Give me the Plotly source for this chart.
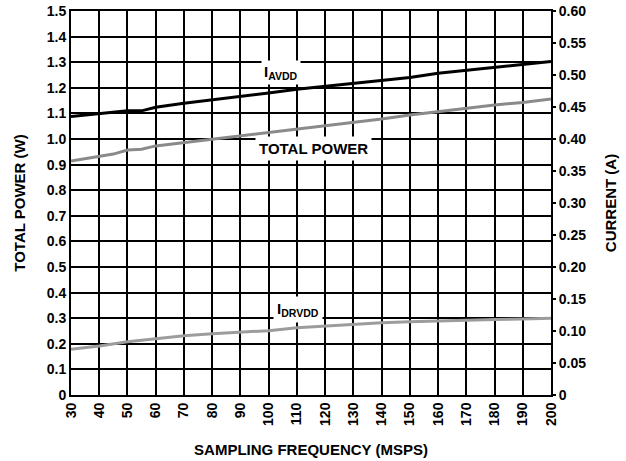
import plotly.graph_objects as go

# ---- data ----
freq_avdd = [30, 40, 50, 55, 60, 70, 80, 90, 100, 110, 120, 130, 140, 150, 160, 170, 180, 190, 200]
i_avdd = [0.435, 0.440, 0.444, 0.444, 0.4495, 0.456, 0.461, 0.466, 0.472, 0.4776, 0.482, 0.487,
          0.491, 0.496, 0.5026, 0.507, 0.512, 0.516, 0.521]

freq_power = [30, 40, 45, 50, 55, 60, 70, 80, 90, 100, 110, 120, 130, 140, 150, 160, 170, 180, 190, 200]
total_power = [0.914, 0.931, 0.941, 0.957, 0.960, 0.973, 0.986, 0.999, 1.014, 1.026, 1.038, 1.051,
               1.064, 1.078, 1.094, 1.107, 1.120, 1.133, 1.143, 1.156]

freq_drvdd = [30, 40, 50, 60, 70, 80, 90, 100, 110, 120, 130, 140, 150, 160, 170, 180, 190, 200]
i_drvdd = [0.0714, 0.0766, 0.0833, 0.0885, 0.0927, 0.0958, 0.098, 0.1005, 0.105, 0.1078, 0.1104,
           0.113, 0.1146, 0.116, 0.117, 0.118, 0.1187, 0.120]

x_ticks = list(range(30, 201, 10))
power_ticks = [i / 10 for i in range(16)]
power_labels = ["0"] + [f"{v:.1f}" for v in power_ticks[1:]]
current_ticks = [i * 0.05 for i in range(13)]
current_labels = ["0"] + [f"{v:.2f}" for v in current_ticks[1:]]

FONT = "Liberation Sans, Arial, Helvetica, sans-serif"

fig = go.Figure()
fig.add_trace(go.Scatter(x=freq_power, y=total_power, mode="lines", yaxis="y",
                         line=dict(color="#8a8a8a", width=3), showlegend=False))
fig.add_trace(go.Scatter(x=freq_drvdd, y=i_drvdd, mode="lines", yaxis="y2",
                         line=dict(color="#9c9c9c", width=3), showlegend=False))
fig.add_trace(go.Scatter(x=freq_avdd, y=i_avdd, mode="lines", yaxis="y2",
                         line=dict(color="#000000", width=3), showlegend=False))

fig.update_layout(
    width=626, height=461,
    margin=dict(l=71, r=75, t=11, b=66),
    paper_bgcolor="white", plot_bgcolor="white",
    font=dict(family=FONT, size=14, color="black", weight="bold"),
    xaxis=dict(range=[30, 200], tickvals=x_ticks, ticktext=[str(v) for v in x_ticks],
               tickangle=-90, ticks="", showgrid=True, gridcolor="#000", gridwidth=1.5,
               showline=True, linecolor="black", linewidth=2, mirror=True, zeroline=False,
               automargin=False,
               tickfont=dict(size=14, family=FONT, weight="bold"),
               title=dict(text="SAMPLING FREQUENCY (MSPS)", standoff=20,
                          font=dict(size=15, family=FONT, weight="bold"))),
    yaxis=dict(range=[0, 1.5], tickvals=power_ticks, ticktext=power_labels, ticks="",
               showgrid=True, gridcolor="#000", gridwidth=1.5, automargin=False,
               showline=True, linecolor="black", linewidth=2, mirror=True, zeroline=False,
               tickfont=dict(size=14, family=FONT, weight="bold"),
               title=dict(text="TOTAL POWER (W)", standoff=17,
                          font=dict(size=15, family=FONT, weight="bold"))),
    yaxis2=dict(range=[0, 0.6], tickvals=current_ticks, ticktext=current_labels,
                overlaying="y", side="right", showgrid=False, zeroline=False, automargin=False,
                ticks="outside", ticklen=4, tickwidth=1.5, tickcolor="black",
                tickfont=dict(size=14, family=FONT, weight="bold"),
                title=dict(text="CURRENT (A)", standoff=20,
                           font=dict(size=15, family=FONT, weight="bold"))),
    yaxis3=dict(range=[0, 0.6], tickvals=current_ticks, overlaying="y", side="right",
                showgrid=False, zeroline=False, showticklabels=False, automargin=False,
                ticks="inside", ticklen=4, tickwidth=1.5, tickcolor="black"),
)

ann_font = dict(size=15, family=FONT, color="black", weight="bold")
fig.add_annotation(x=104.4, y=1.258, xref="x", yref="y", text="I<sub>AVDD</sub>",
                   showarrow=False, font=ann_font, bgcolor="white", borderpad=2)
fig.add_annotation(x=115.9, y=0.961, xref="x", yref="y", text="TOTAL POWER",
                   showarrow=False, font=ann_font, bgcolor="white", borderpad=3)
fig.add_annotation(x=110.5, y=0.333, xref="x", yref="y", text="I<sub>DRVDD</sub>",
                   showarrow=False, font=ann_font, bgcolor="white", borderpad=3)

fig.write_html("out.html", config={"displayModeBar": False},
               post_script="document.body.style.margin='0';")
